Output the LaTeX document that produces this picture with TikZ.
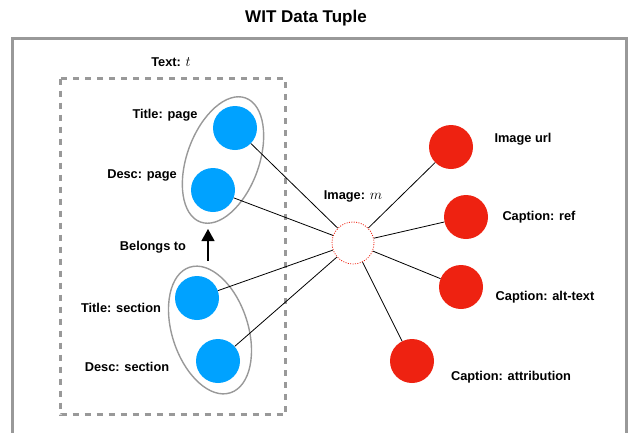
\documentclass[tikz,border=0pt]{standalone}
\usepackage{fontspec}
\setmainfont{Liberation Sans}
\usetikzlibrary{shapes.geometric,arrows.meta}
\definecolor{framegray}{HTML}{999999}
\definecolor{textblue}{HTML}{00A2FF}
\definecolor{imagered}{HTML}{EE2211}
\newcommand{\varsym}[1]{{\fontsize{15}{15}\selectfont$#1$}}
\tikzset{
  lbl/.style={font=\fontsize{12.8}{15}\selectfont\bfseries, inner sep=0pt},
  textnode/.style={circle, fill=textblue, minimum size=44pt, inner sep=0pt},
  capnode/.style={circle, fill=imagered, minimum size=44pt, inner sep=0pt},
  imgnode/.style={circle, draw=imagered, line width=0.8pt, dash pattern=on 1pt off 1.4pt, minimum size=42pt, inner sep=0pt},
  group/.style={ellipse, draw=framegray, line width=1.4pt, inner sep=0pt},
  link/.style={line width=0.8pt, black},
}
\begin{document}
\begin{tikzpicture}[x=1pt, y=-1pt]
  \useasboundingbox (0,0) rectangle (629,432);
  \clip (0,0) rectangle (629,432);

  % title and outer frame (open at the bottom)
  \node[lbl, font=\fontsize{17}{19}\selectfont\bfseries] (title) at (306,18) {WIT Data Tuple};
  \draw[framegray, line width=3pt] (12.5,445) -- (12.5,38.5) -- (626.5,38.5) -- (626.5,445);

  % text side
  \node[lbl] (textlbl) at (171,62) {Text: \varsym{t}};
  \draw[framegray, line width=3pt, dash pattern=on 6pt off 6pt] (60.5,78.5) rectangle (285.5,414.5);

  \node[group, minimum width=132pt, minimum height=72pt, rotate=70] (pagegrp) at (223,160) {};
  \node[group, minimum width=132pt, minimum height=76pt, rotate=-72] (secgrp) at (210,330) {};

  \node[textnode] (tpage) at (235,128) {};
  \node[textnode] (dpage) at (213,190) {};
  \node[textnode] (tsec) at (197,298) {};
  \node[textnode] (dsec) at (218,361) {};

  \node[lbl] at (165,115) {Title: page};
  \node[lbl] at (142,175) {Desc: page};
  \node[lbl] at (153,247) {Belongs to};
  \node[lbl] at (121,308) {Title: section};
  \node[lbl] at (127,367) {Desc: section};

  % "belongs to" arrow between the two groups
  \coordinate (btail) at (208,261);
  \coordinate (btip) at (208,229);
  \draw[line width=1.3pt, -{Triangle[length=12pt, width=13pt]}] (btail) -- (btip);

  % image side
  \node[imgnode] (img) at (353,243) {};
  \node[lbl] at (353,196) {Image: \varsym{m}};

  \node[capnode] (url) at (451,147) {};
  \node[capnode] (ref) at (466,217) {};
  \node[capnode] (alt) at (461,287) {};
  \node[capnode] (attr) at (412,361) {};

  \node[lbl] at (523,139) {Image url};
  \node[lbl] at (539,217) {Caption: ref};
  \node[lbl] at (545,297) {Caption: alt-text};
  \node[lbl] at (511,377) {Caption: attribution};

  % links
  \foreach \n in {tpage,dpage,tsec,dsec,url,ref,alt,attr}
    \draw[link] (\n) -- (img);
\end{tikzpicture}
\end{document}
